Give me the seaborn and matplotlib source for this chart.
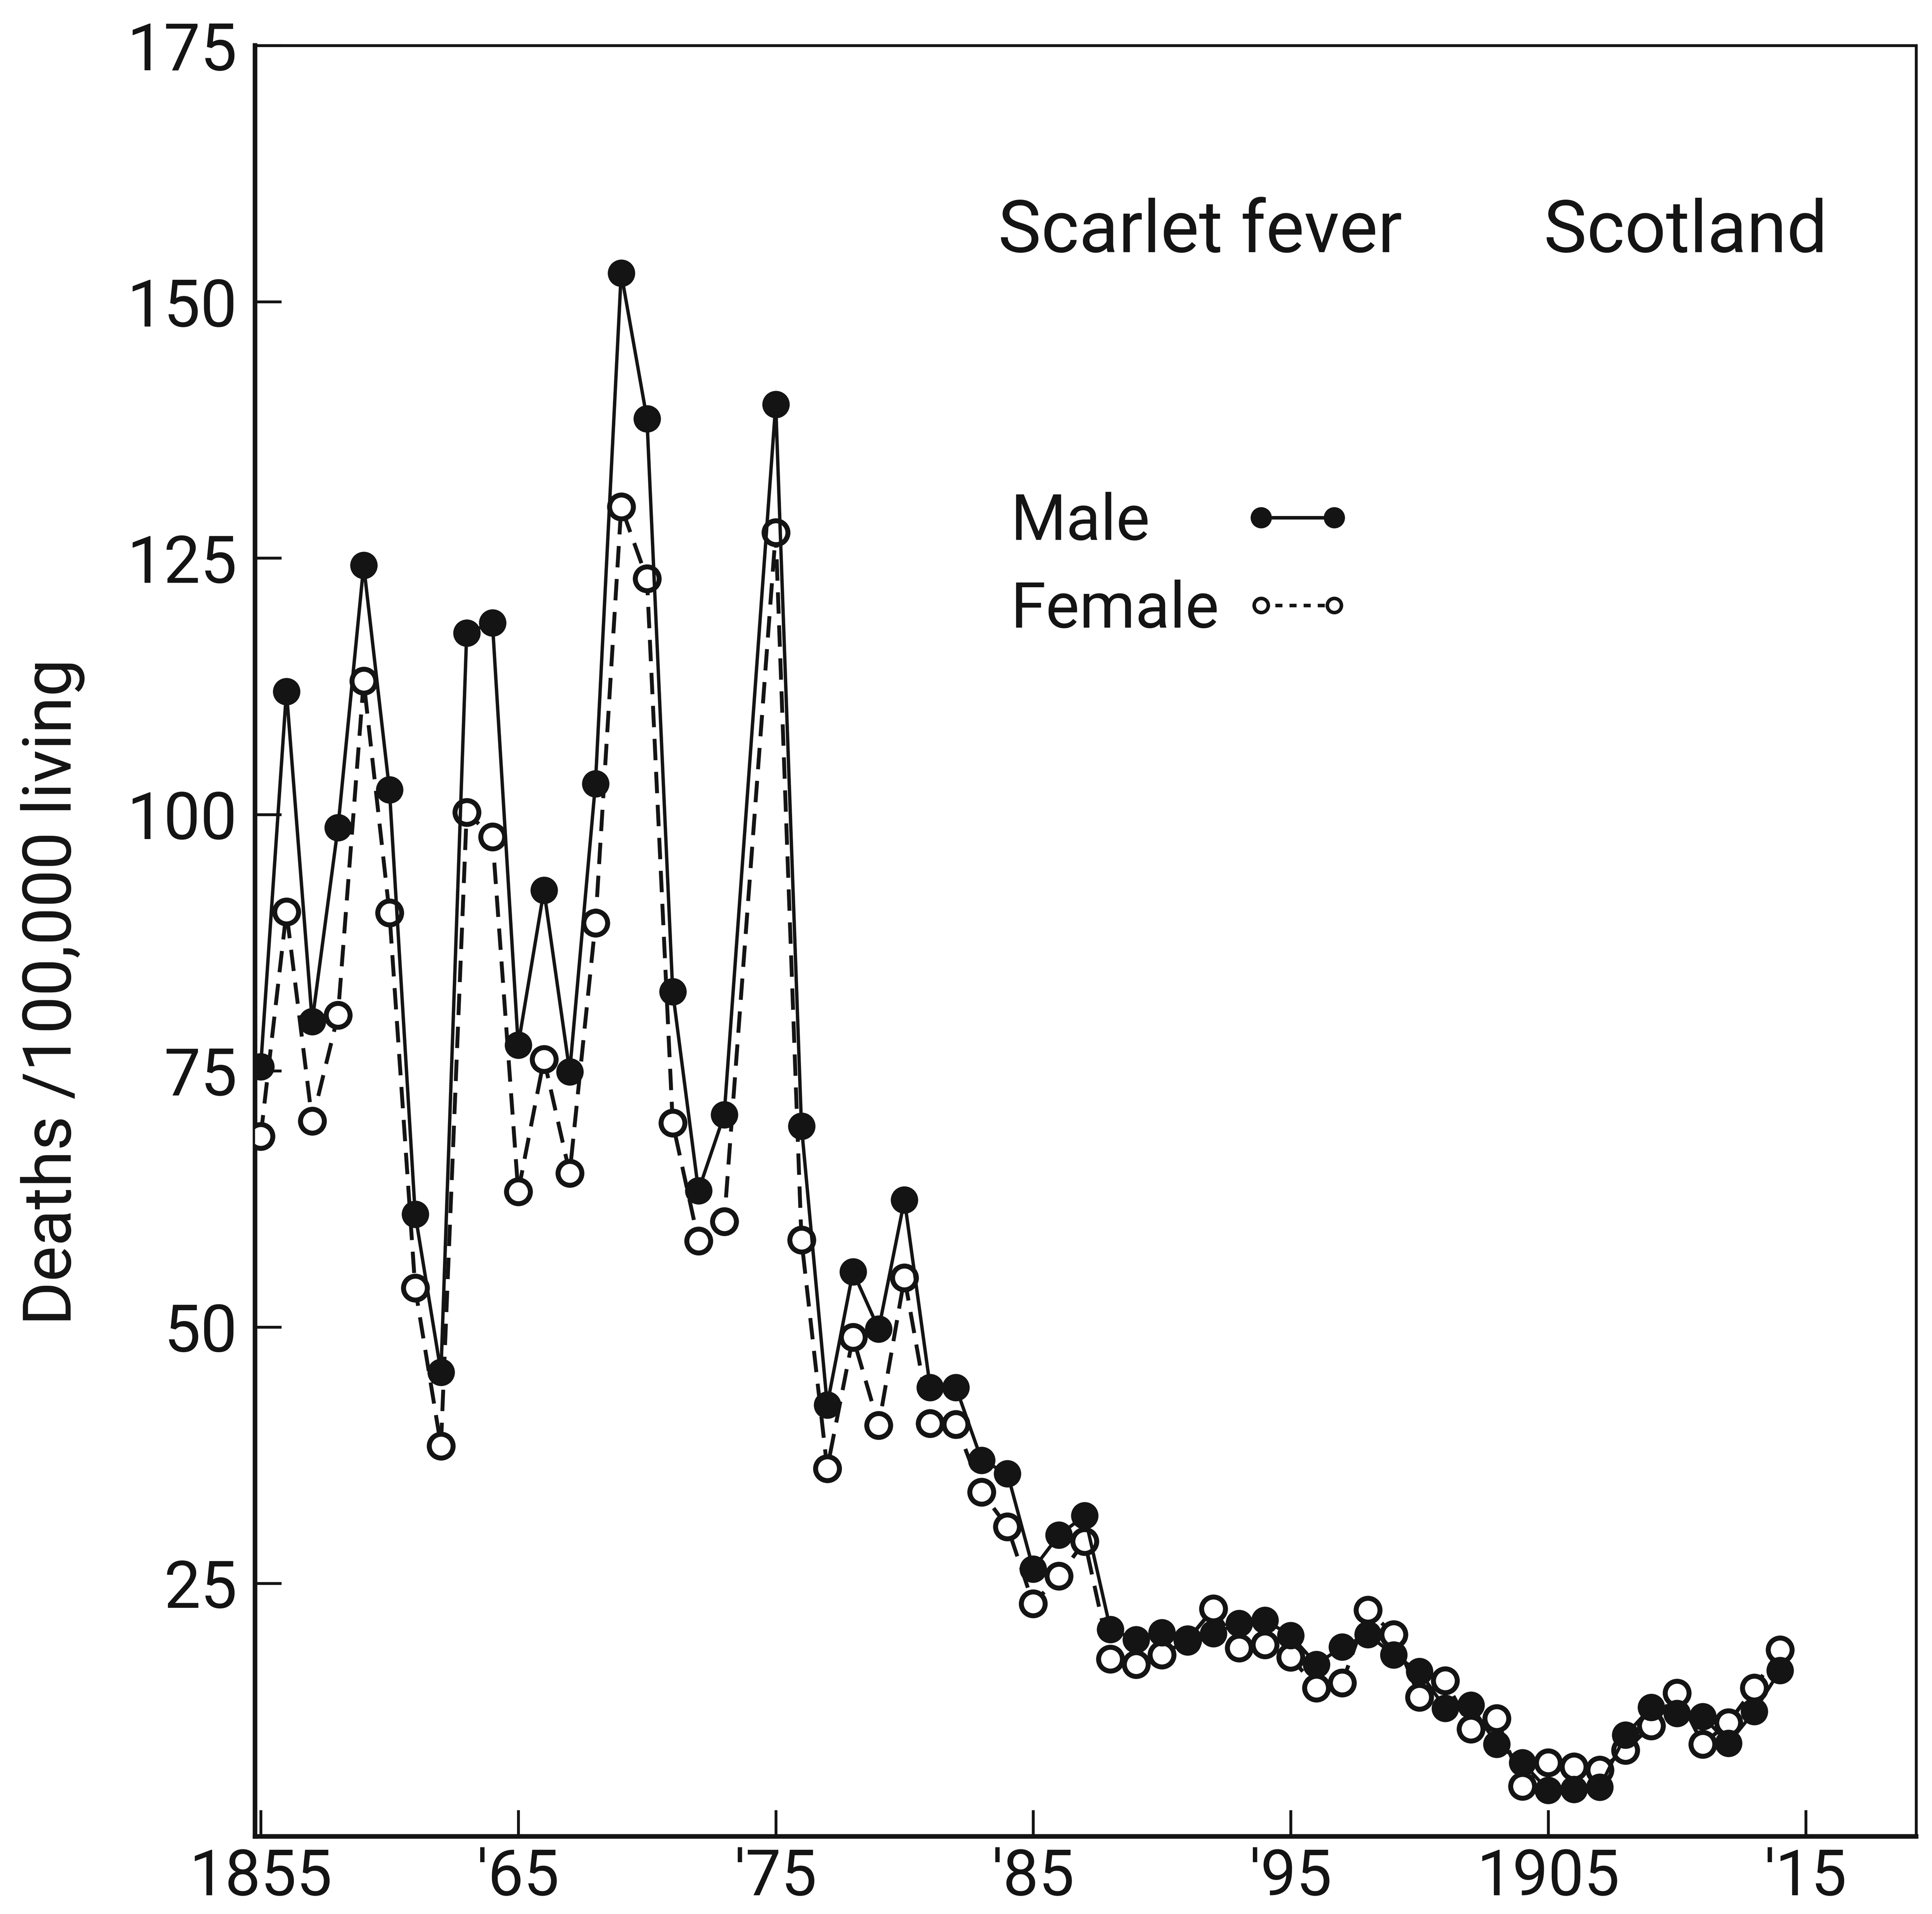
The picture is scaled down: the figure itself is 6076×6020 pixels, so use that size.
import numpy as np
import pandas as pd
import matplotlib
matplotlib.use("Agg")
import matplotlib.pyplot as plt
from matplotlib.lines import Line2D
import seaborn as sns

# ---------------- data ----------------
years = [1855, 1856, 1857, 1858, 1859, 1860, 1861, 1862, 1863, 1864,
         1865, 1866, 1867, 1868, 1869, 1870, 1871, 1872, 1873,
         1875, 1876, 1877, 1878, 1879, 1880, 1881, 1882, 1883, 1884,
         1885, 1886, 1887, 1888, 1889, 1890, 1891, 1892, 1893, 1894,
         1895, 1896, 1897, 1898, 1899, 1900, 1901, 1902, 1903, 1904,
         1905, 1906, 1907, 1908, 1909, 1910, 1911, 1912, 1913, 1914]

male = [75.4, 112.0, 79.8, 98.7, 124.3, 102.4, 61.0, 45.6, 117.7, 118.7,
        77.5, 92.6, 74.9, 103.0, 152.8, 138.6, 82.7, 63.3, 70.7,
        140.0, 69.6, 42.4, 55.4, 49.8, 62.4, 44.1, 44.1, 37.0, 35.7,
        26.4, 29.7, 31.6, 20.5, 19.5, 20.2, 19.3, 20.1, 21.1, 21.4,
        19.9, 17.1, 18.8, 20.0, 18.0, 16.4, 12.8, 13.1, 9.3, 7.5,
        4.8, 4.9, 5.1, 10.2, 12.9, 12.3, 12.0, 9.4, 12.5, 16.5]

female = [68.6, 90.5, 70.1, 80.4, 113.0, 90.4, 53.8, 38.4, 100.2, 97.8,
          63.2, 76.1, 65.0, 89.4, 130.0, 123.0, 69.9, 58.4, 60.3,
          127.5, 58.5, 36.2, 49.0, 40.4, 54.8, 40.6, 40.5, 33.9, 30.5,
          23.0, 25.7, 29.1, 17.6, 17.1, 18.0, 19.5, 22.5, 18.7, 19.0,
          17.8, 14.8, 15.3, 22.4, 20.0, 13.9, 15.5, 10.8, 11.8, 5.2,
          7.5, 7.1, 6.8, 8.7, 11.1, 14.3, 9.3, 11.4, 14.8, 18.5]

xtick_years = [1855, 1865, 1875, 1885, 1895, 1905, 1915]
xtick_labels = ["1855", "'65", "'75", "'85", "'95", "1905", "'15"]
ytick_values = [25, 50, 75, 100, 125, 150, 175]
ytick_labels = ["25", "50", "75", "100", "125", "150", "175"]

title_left = "Scarlet fever"
title_right = "Scotland"
y_label = "Deaths /100,000 living"
series_names = ["Male", "Female"]

# ---------------- style ----------------
sns.set_theme(style="ticks")
plt.rcParams["font.family"] = ["Roboto", "DejaVu Sans"]
INK = "#141414"

df = pd.DataFrame({"year": years, "Male": male, "Female": female})

fig = plt.figure(figsize=(6076 / 400, 6020 / 400), dpi=400, facecolor="white")
ax = fig.add_axes([0.132, 0.0405, 0.8597, 0.9357])
ax.set_facecolor("white")

# female: dashed line, open circles
sns.lineplot(data=df, x="year", y="Female", ax=ax, color=INK, lw=2.2,
             linestyle=(0, (5.5, 3.0)), marker="o", markersize=13.5,
             markerfacecolor="white", markeredgecolor=INK, markeredgewidth=2.8,
             errorbar=None, legend=False, zorder=3)
# male: solid line, filled circles
sns.lineplot(data=df, x="year", y="Male", ax=ax, color=INK, lw=1.9,
             linestyle="-", marker="o", markersize=13.5,
             markerfacecolor=INK, markeredgecolor=INK, markeredgewidth=2.0,
             errorbar=None, legend=False, zorder=4)

ax.set_xlim(1854.78, 1919.28)
ax.set_ylim(0.3, 175)
ax.set_xticks(xtick_years)
ax.set_xticklabels(xtick_labels)
ax.set_yticks(ytick_values)
ax.set_yticklabels(ytick_labels)
ax.tick_params(axis="both", direction="in", length=15, width=1.6, color=INK,
               labelsize=37, labelcolor=INK)
ax.tick_params(axis="x", pad=6, labelsize=36)
ax.tick_params(axis="y", pad=10)
ax.set_xlabel("")
ax.set_ylabel(y_label, fontsize=38, color=INK)
ax.yaxis.set_label_coords(-0.1024, 0.4715)

for side, lw in [("left", 2.6), ("bottom", 2.6), ("top", 1.6), ("right", 1.6)]:
    ax.spines[side].set_visible(True)
    ax.spines[side].set_linewidth(lw)
    ax.spines[side].set_color(INK)
ax.grid(False)

ax.text(0.4473, 0.8847, title_left, transform=ax.transAxes, fontsize=41,
        ha="left", va="baseline", color=INK)
ax.text(0.776, 0.8847, title_right, transform=ax.transAxes, fontsize=41,
        ha="left", va="baseline", color=INK)

# legend: text column left-aligned, key column aligned after it
blank = Line2D([], [], linestyle="none", marker="None")
male_h = Line2D([], [], color=INK, lw=2.0, marker="o", markersize=11,
                markerfacecolor=INK, markeredgecolor=INK)
female_h = Line2D([], [], color=INK, lw=2.0, linestyle=(0, (2, 2)), marker="o",
                  markersize=8, markerfacecolor="white", markeredgecolor=INK,
                  markeredgewidth=2.0)
leg = ax.legend([blank, blank, male_h, female_h],
                [series_names[0], series_names[1], "", ""],
                ncol=2, numpoints=2, frameon=False, fontsize=36,
                handlelength=1.75, handletextpad=0.0, columnspacing=0.36,
                labelspacing=0.42, borderpad=0.0, borderaxespad=0.0,
                loc="upper left", bbox_to_anchor=(0.388, 0.7508))
for t in leg.get_texts():
    t.set_color(INK)

fig.savefig("out.png", dpi=400, facecolor="white")
